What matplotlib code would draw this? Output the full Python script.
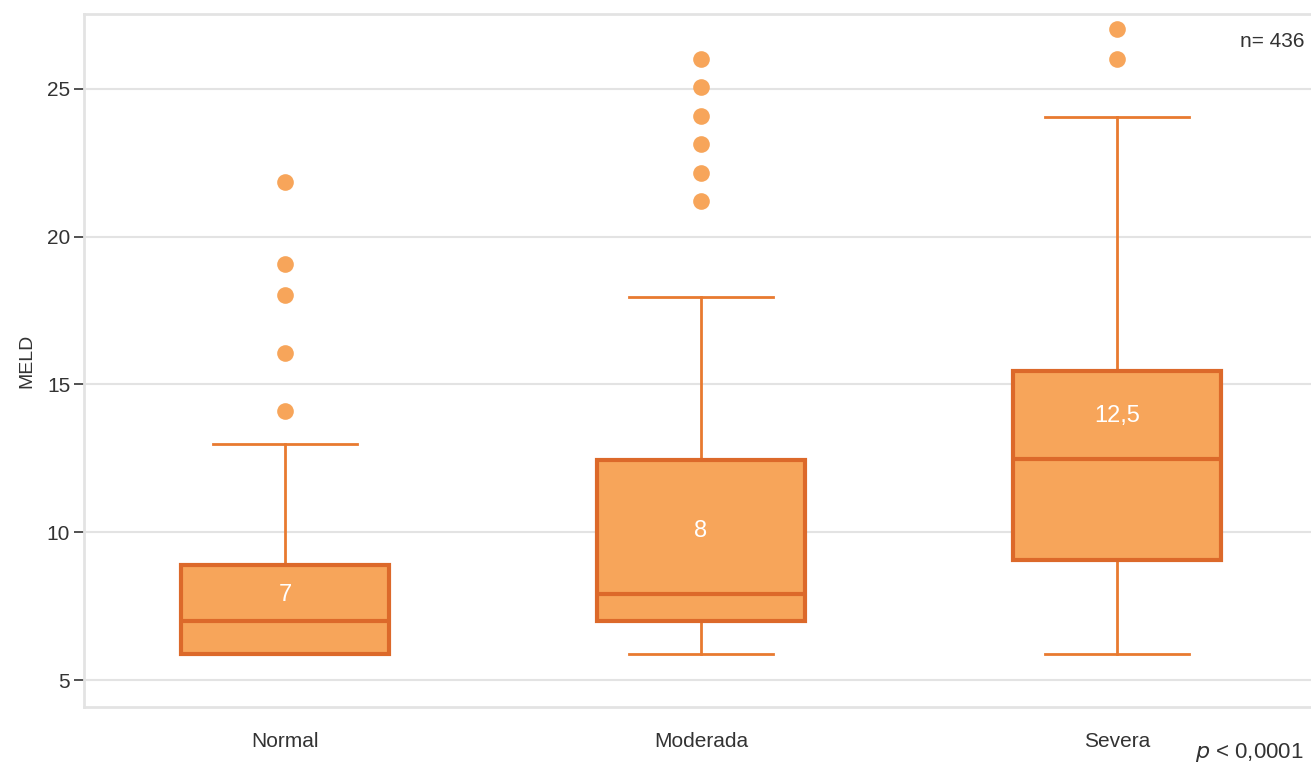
import numpy as np
import matplotlib
matplotlib.use('Agg')
import matplotlib.pyplot as plt

plt.rcParams['font.family'] = ['Liberation Sans Narrow', 'Liberation Sans', 'DejaVu Sans']

categories = ['Normal', 'Moderada', 'Severa']
whislo = [5.9, 5.9, 5.9]
q1 = [5.9, 7.0, 9.05]
med = [7.0, 7.9, 12.47]
q3 = [8.9, 12.45, 15.45]
whishi = [12.97, 17.95, 24.05]
fliers = [
    [21.85, 19.08, 18.02, 16.05, 14.1],
    [26.02, 25.05, 24.08, 23.12, 22.15, 21.2],
    [27.02, 26.02],
]
labels_in_box = ['7', '8', '12,5']

fill_color = '#F7A55A'
edge_color = '#DC692A'
whisk_color = '#E87A30'
grid_color = '#E3E3E3'

stats = []
for i, name in enumerate(categories):
    stats.append({
        'label': name, 'whislo': whislo[i], 'q1': q1[i], 'med': med[i],
        'q3': q3[i], 'whishi': whishi[i], 'fliers': fliers[i],
    })

fig = plt.figure(figsize=(13.11, 7.75), dpi=100)
ax = fig.add_axes([0.0641, 0.0877, 0.9359, 0.8942])

ax.bxp(stats, positions=range(len(categories)), widths=0.5, patch_artist=True,
       boxprops=dict(facecolor=fill_color, edgecolor=edge_color, linewidth=3, zorder=3),
       medianprops=dict(color=edge_color, linewidth=3, zorder=4),
       whiskerprops=dict(color=whisk_color, linewidth=2, zorder=2),
       capprops=dict(color=whisk_color, linewidth=2, zorder=2),
       capwidths=0.345,
       flierprops=dict(marker='o', markerfacecolor=fill_color, markeredgecolor='none',
                       markersize=12, zorder=3))

# median labels inside the boxes
label_y = [7.88, 10.05, 13.95]
for i, txt in enumerate(labels_in_box):
    ax.text(i, label_y[i], txt, color='white', fontsize=17, ha='center', va='center', zorder=5)

ax.set_xlim(-0.483, 2.467)
ax.set_ylim(4.09, 27.53)
ax.set_yticks([5, 10, 15, 20, 25])
ax.set_xticks(range(len(categories)))
ax.set_xticklabels(categories)
ax.grid(axis='y', color=grid_color, linewidth=1.5, zorder=0)
ax.set_axisbelow(True)

for side in ['left', 'top', 'bottom']:
    ax.spines[side].set_color(grid_color)
    ax.spines[side].set_linewidth(2)
ax.spines['right'].set_visible(False)

ax.tick_params(axis='y', length=7, width=1.2, color='#333333', labelsize=15, labelcolor='#333333', pad=3)
ax.tick_params(axis='x', length=0, labelsize=15, labelcolor='#333333', pad=18)
ax.set_ylabel('MELD', fontsize=14, color='#333333', labelpad=8)

ax.text(0.995, 0.96, 'n= 436', transform=ax.transAxes, ha='right', va='center',
        fontsize=15, color='#333333')
fig.text(0.994, 0.014, r'$\it{p}$ < 0,0001', ha='right', va='bottom', fontsize=16, color='#333333')

fig.savefig('out.png', dpi=100)
